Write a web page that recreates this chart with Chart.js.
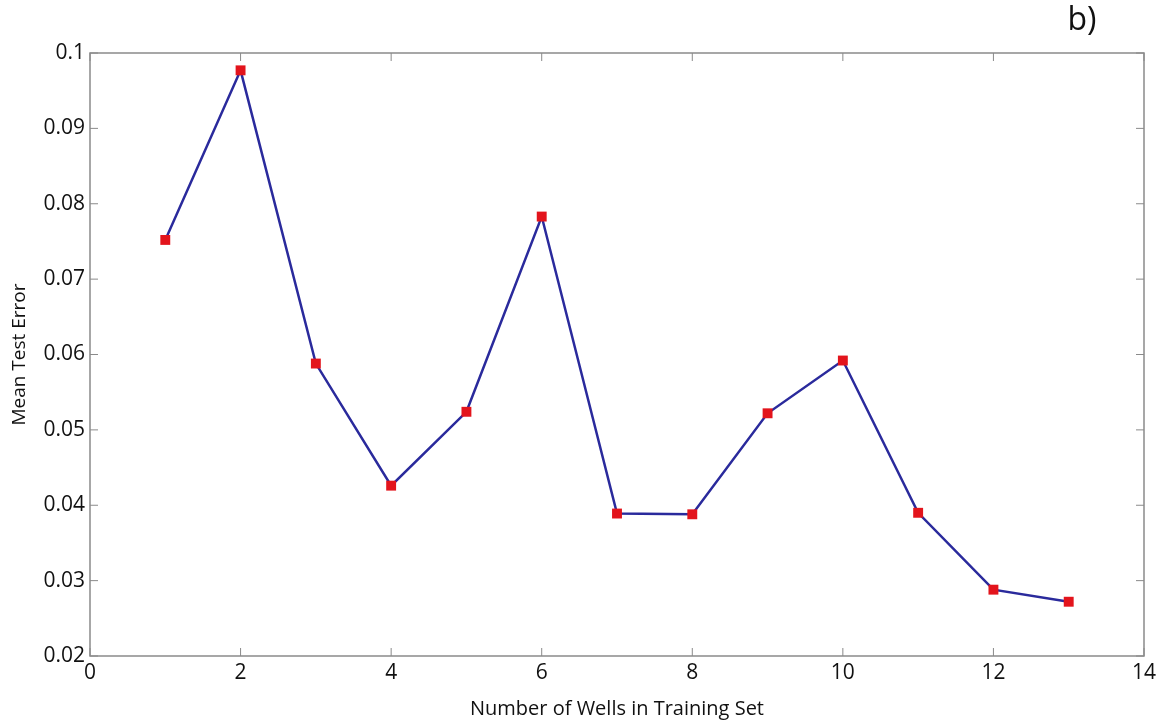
<!DOCTYPE html>
<html>
<head>
<meta charset="utf-8">
<script src="https://cdn.jsdelivr.net/npm/chart.js@4.4.1/dist/chart.umd.min.js"></script>
<style>
  html, body { margin: 0; padding: 0; background: #fff; }
  #wrap { width: 1165px; height: 727px; position: relative; }
</style>
</head>
<body>
<div id="wrap"><canvas id="chart"></canvas></div>
<script>
// --- datos ---
const wells = [1, 2, 3, 4, 5, 6, 7, 8, 9, 10, 11, 12, 13];
const meanTestError = [0.0752, 0.0977, 0.0588, 0.0426, 0.0524, 0.0783, 0.0389, 0.0388, 0.0522, 0.0592, 0.0390, 0.0288, 0.0272];
const xTicks = [0, 2, 4, 6, 8, 10, 12, 14];
const yTicks = [0.02, 0.03, 0.04, 0.05, 0.06, 0.07, 0.08, 0.09, 0.1];

const FONT = "'Open Sans', 'DejaVu Sans', sans-serif";
const AXIS = '#8a8a8a';

// caja y marcas hacia dentro en los cuatro lados
const boxTicks = {
  id: 'boxTicks',
  afterDatasetsDraw(chart) {
    const { ctx, chartArea: a, scales: { x, y } } = chart;
    ctx.save();
    ctx.strokeStyle = AXIS;
    ctx.lineWidth = 1.5;
    ctx.strokeRect(a.left, a.top, a.right - a.left, a.bottom - a.top);
    ctx.lineWidth = 1;
    const len = 8;
    xTicks.forEach(v => {
      const px = x.getPixelForValue(v);
      ctx.beginPath();
      ctx.moveTo(px, a.bottom); ctx.lineTo(px, a.bottom - len);
      ctx.moveTo(px, a.top); ctx.lineTo(px, a.top + len);
      ctx.stroke();
    });
    yTicks.forEach(v => {
      const py = y.getPixelForValue(v);
      ctx.beginPath();
      ctx.moveTo(a.left, py); ctx.lineTo(a.left + len, py);
      ctx.moveTo(a.right, py); ctx.lineTo(a.right - len, py);
      ctx.stroke();
    });
    // etiqueta del panel
    ctx.fillStyle = '#111';
    ctx.font = '32px ' + FONT;
    ctx.textAlign = 'center';
    ctx.textBaseline = 'middle';
    ctx.fillText('b)', 1082, 21);
    ctx.restore();
  }
};

new Chart(document.getElementById('chart'), {
  type: 'scatter',
  data: {
    datasets: [{
      data: wells.map((w, i) => ({ x: w, y: meanTestError[i] })),
      showLine: true,
      borderColor: '#2a2a9c',
      borderWidth: 2.5,
      pointStyle: 'rect',
      pointRadius: 7,
      pointHoverRadius: 7,
      pointBackgroundColor: '#e3141c',
      pointBorderColor: '#e3141c',
      pointBorderWidth: 0
    }]
  },
  options: {
    responsive: true,
    maintainAspectRatio: false,
    animation: false,
    layout: { padding: { top: 53, right: 21, left: 0, bottom: 0 } },
    plugins: { legend: { display: false }, tooltip: { enabled: false } },
    scales: {
      x: {
        type: 'linear', min: 0, max: 14,
        afterBuildTicks: s => { s.ticks = xTicks.map(v => ({ value: v })); },
        afterFit: s => { s.height = 71; },
        grid: { display: false, drawTicks: false },
        border: { display: false },
        ticks: { color: '#111', font: { family: FONT, size: 21 }, padding: 4, maxRotation: 0 },
        title: { display: true, text: 'Number of Wells in Training Set', color: '#111', font: { family: FONT, size: 20 }, padding: { top: 0, bottom: 6 } }
      },
      y: {
        min: 0.02, max: 0.1,
        afterBuildTicks: s => { s.ticks = yTicks.map(v => ({ value: v })); },
        afterFit: s => { s.width = 90; },
        grid: { display: false, drawTicks: false },
        border: { display: false },
        ticks: { color: '#111', font: { family: FONT, size: 21 }, padding: 5, callback: v => String(+v.toFixed(2)) },
        title: { display: true, text: 'Mean Test Error', color: '#111', font: { family: FONT, size: 19 }, padding: { top: 8, bottom: 0 } }
      }
    }
  },
  plugins: [boxTicks]
});
</script>
</body>
</html>
